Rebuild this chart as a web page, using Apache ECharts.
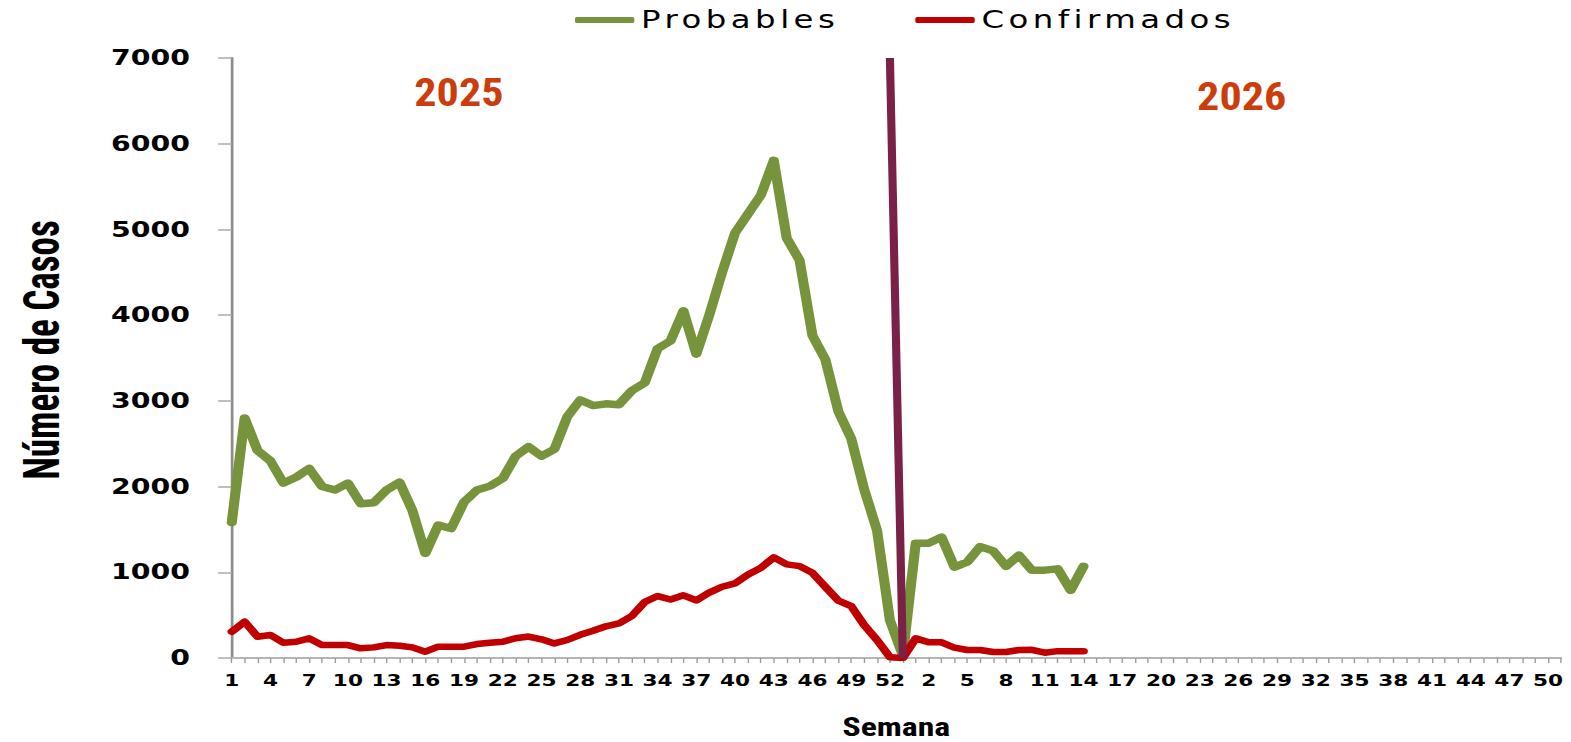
<!DOCTYPE html>
<html>
<head>
<meta charset="utf-8">
<script src="https://cdn.jsdelivr.net/npm/echarts@6/dist/echarts.min.js"></script>
<style>
html,body{margin:0;padding:0;background:#fff;overflow:hidden;}
#wrap{width:1571px;height:742px;overflow:hidden;}
#main{width:1164px;height:742px;transform:scaleX(1.349656);transform-origin:0 0;}
/* legend labels use a wide, spaced lettering like the original */
#main text[style*="Verdana"]{letter-spacing:3.3px !important;}
</style>
</head>
<body>
<div id="wrap"><div id="main"></div></div>
<script>
// Semanas epidemiológicas (etiquetas del eje X)
var weeks2025 = ['1','2','3','4','5','6','7','8','9','10','11','12','13','14','15','16','17','18','19','20','21','22','23','24','25','26','27','28','29','30','31','32','33','34','35','36','37','38','39','40','41','42','43','44','45','46','47','48','49','50','51','52','53'];
var weeks2026 = ['1','2','3','4','5','6','7','8','9','10','11','12','13','14','15','16','17','18','19','20','21','22','23','24','25','26','27','28','29','30','31','32','33','34','35','36','37','38','39','40','41','42','43','44','45','46','47','48','49','50','51'];

// Casos probables
var probables2025 = [1580,2800,2420,2300,2040,2110,2210,2000,1960,2040,1800,1810,1960,2050,1720,1220,1550,1510,1820,1960,2005,2095,2355,2465,2355,2435,2815,3010,2945,2965,2955,3120,3210,3610,3700,4050,3545,4000,4500,4960,5180,5400,5805,4900,4640,3760,3480,2880,2560,1970,1490,440,30];
var probables2026 = [1340,1340,1410,1060,1120,1300,1250,1070,1200,1025,1025,1040,790,1070];

// Casos confirmados
var confirmados2025 = [306,423,248,268,178,190,229,151,151,151,113,124,151,143,124,73,132,132,132,163,178,190,230,250,218,170,210,270,318,370,403,490,652,722,683,731,671,763,831,871,972,1052,1173,1092,1072,992,830,670,605,384,210,10,0];
var confirmados2026 = [229,183,183,120,93,93,70,70,93,95,62,80,80,80];

// Eje Y
var yTicks = [0,1000,2000,3000,4000,5000,6000,7000];

var seriesNames = ['Probables','Confirmados'];
var yearLabels = ['2025','2026'];

var categories = weeks2025.concat(weeks2026);
function pad(arr, n){ var out = arr.slice(); while(out.length < n) out.push(null); return out; }
var probables = pad(probables2025.concat(probables2026), categories.length);
var confirmados = pad(confirmados2025.concat(confirmados2026), categories.length);

var chart = echarts.init(document.getElementById('main'), null, {renderer:'svg'});
var labelFont = "'DejaVu Sans', sans-serif";
var legendFont = "Verdana, 'DejaVu Sans', sans-serif";
var narrowFont = "'Roboto Condensed','Open Sans Condensed',sans-serif";

chart.setOption({
  animation: false,
  backgroundColor: '#ffffff',
  legend: {
    data: seriesNames,
    left: 426,
    top: 8,
    padding: 0,
    icon: 'roundRect',
    itemWidth: 44,
    itemHeight: 6,
    itemGap: 86,
    textStyle: {fontFamily: legendFont, fontSize: 24, color: '#000'}
  },
  grid: {left: 171.7, right: 7.4, top: 58, bottom: 84, containLabel: false, outerBoundsMode: 'none'},
  xAxis: {
    type: 'category',
    data: categories,
    boundaryGap: false,
    name: 'Semana',
    nameLocation: 'middle',
    nameGap: 57,
    nameTextStyle: {fontFamily: narrowFont, fontWeight: 'bold', fontSize: 25, color: '#000'},
    axisLine: {show: true, lineStyle: {color: '#b5b5b5', width: 2}},
    axisTick: {show: true, interval: 0, length: 5, lineStyle: {color: '#9a9a9a', width: 1}},
    axisLabel: {interval: 2, margin: 14, fontFamily: labelFont, fontWeight: 'bold', fontSize: 16, color: '#000'},
    splitLine: {show: false}
  },
  yAxis: {
    type: 'value',
    min: yTicks[0],
    max: yTicks[yTicks.length-1],
    interval: 1000,
    name: 'Número de Casos',
    nameLocation: 'middle',
    nameRotate: 90,
    nameGap: 122,
    nameTextStyle: {fontFamily: narrowFont, fontWeight: 'bold', fontSize: 37, color: '#000', padding: [0,0,0,16]},
    axisLine: {show: true, lineStyle: {color: '#8c8c8c', width: 2}},
    axisTick: {show: true, inside: false, length: 10, lineStyle: {color: '#aaaaaa', width: 1.5}},
    axisLabel: {margin: 31, fontFamily: labelFont, fontWeight: 'bold', fontSize: 21, color: '#000',
                formatter: function (v) { return String(v); }},
    splitLine: {show: false}
  },
  graphic: [
    {type: 'text', x: 340, y: 93, scaleX: 0.86, silent: true,
     style: {text: yearLabels[0], font: "bold 38px " + narrowFont, fill: '#CC3D0C', align: 'center', verticalAlign: 'middle',
             shadowColor: 'rgba(0,0,0,0.25)', shadowBlur: 2, shadowOffsetX: 1, shadowOffsetY: 1}},
    {type: 'text', x: 920, y: 97, scaleX: 0.86, silent: true,
     style: {text: yearLabels[1], font: "bold 38px " + narrowFont, fill: '#CC3D0C', align: 'center', verticalAlign: 'middle',
             shadowColor: 'rgba(0,0,0,0.25)', shadowBlur: 2, shadowOffsetX: 1, shadowOffsetY: 1}}
  ],
  series: [
    {
      name: seriesNames[0],
      type: 'line',
      data: probables,
      showSymbol: false,
      symbol: 'none',
      connectNulls: false,
      itemStyle: {color: '#77933C'},
      lineStyle: {color: '#77933C', width: 7.5, cap: 'round', join: 'round'},
      z: 3,
      markLine: {
        silent: true,
        symbol: ['none','none'],
        label: {show: false},
        lineStyle: {color: '#7B2046', width: 6, type: 'solid'},
        data: [[{coord: [weeks2025.length - 2, yTicks[yTicks.length-1]]}, {coord: [weeks2025.length - 1, yTicks[0]]}]],
        z: 10
      }
    },
    {
      name: seriesNames[1],
      type: 'line',
      data: confirmados,
      showSymbol: false,
      symbol: 'none',
      connectNulls: false,
      itemStyle: {color: '#C00000'},
      lineStyle: {color: '#C00000', width: 6.5, cap: 'round', join: 'round'},
      z: 4
    }
  ]
});
</script>
</body>
</html>
